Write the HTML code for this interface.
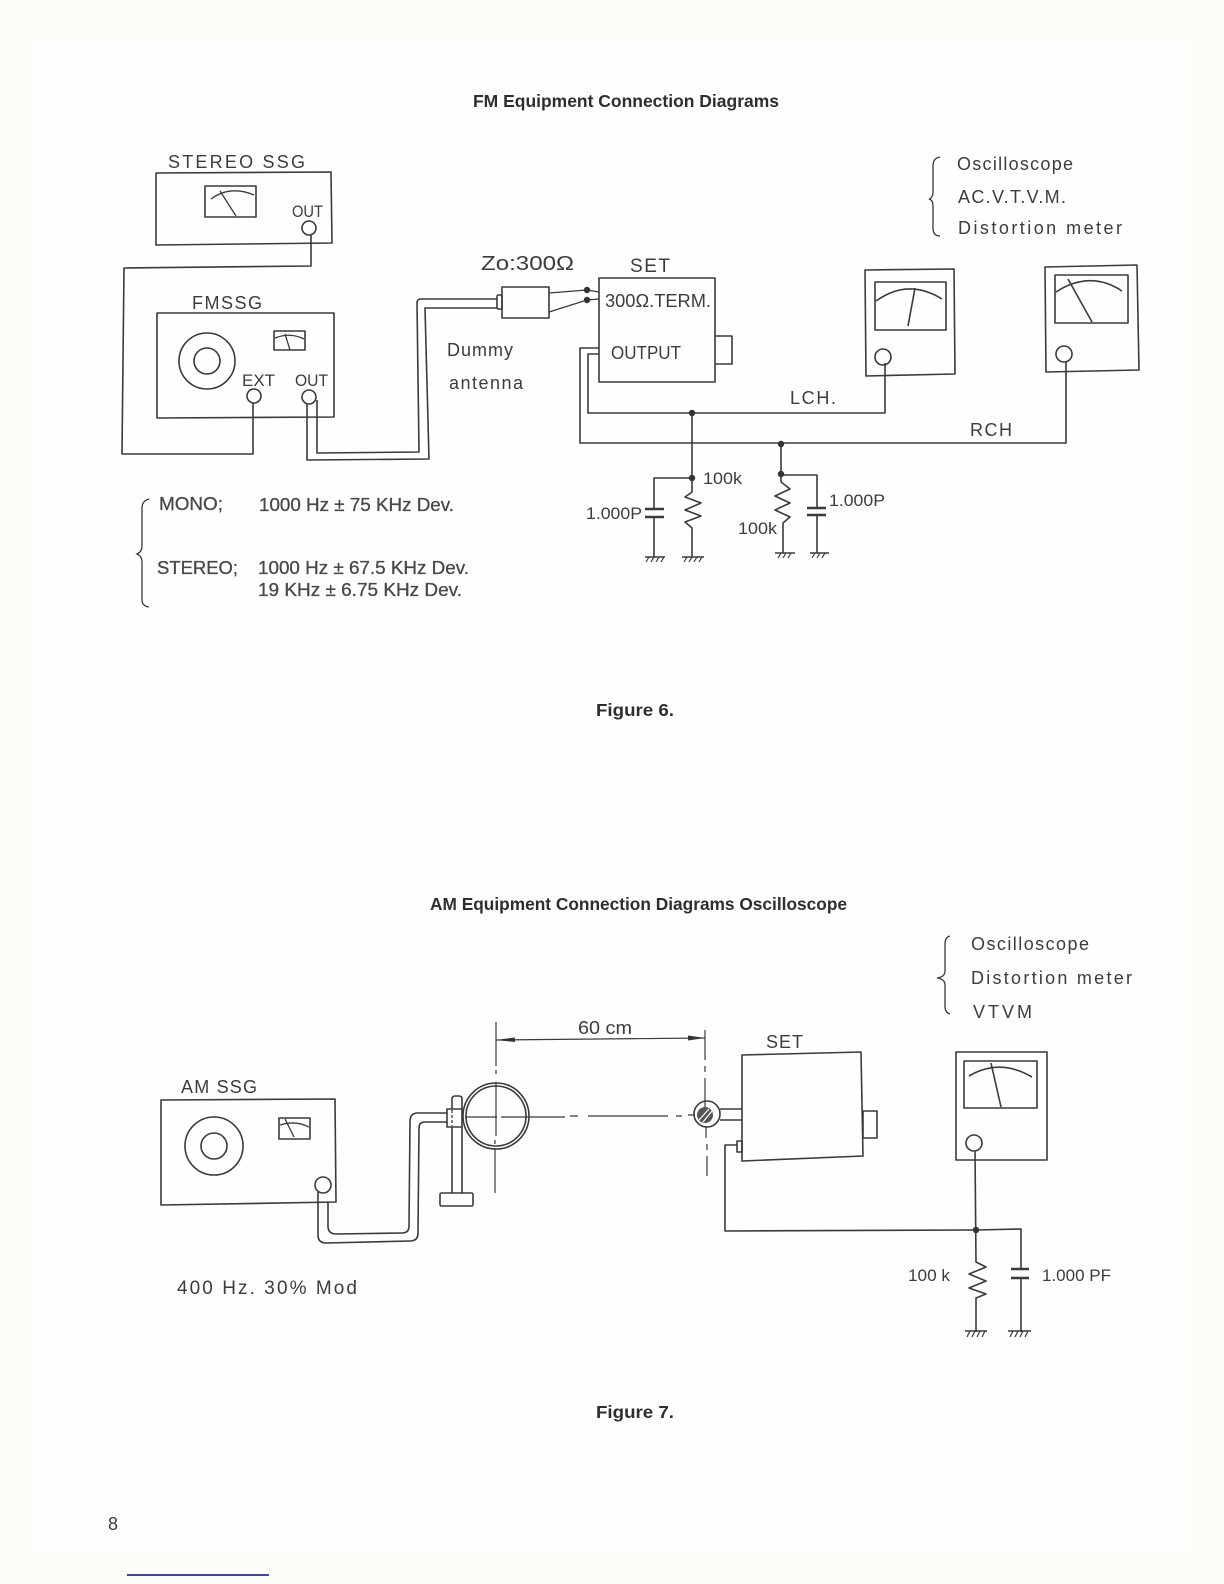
<!DOCTYPE html>
<html><head><meta charset="utf-8"><title>FM and AM Equipment Connection Diagrams</title>
<style>
html,body{margin:0;padding:0;background:#fcfcf9}
svg{display:block}
text{font-family:"Liberation Sans",sans-serif;fill:#3c3c3c;font-size:18px}
.b{font-weight:bold;fill:#2e2e2e;font-size:17.5px}
.m{fill:#484848;stroke:#484848;stroke-width:.3;font-size:18px}
.s{font-size:17px}
.l{fill:none;stroke:#3a3a3a;stroke-width:1.6;stroke-linejoin:round}
.t{fill:none;stroke:#3a3a3a;stroke-width:1.3}
.d{fill:#333}
.g{fill:none;stroke:#3a3a3a;stroke-width:1.2}
</style></head><body>
<svg width="1224" height="1584" viewBox="0 0 1224 1584" xmlns="http://www.w3.org/2000/svg">
<rect width="1224" height="1584" fill="#fcfcf9"/>
<rect x="30" y="40" width="1160" height="1510" fill="#fefefd"/>

<!-- Titles -->
<text class="b" x="473" y="107" textLength="306" lengthAdjust="spacingAndGlyphs">FM Equipment Connection Diagrams</text>
<text class="b" x="596" y="716" textLength="78" lengthAdjust="spacingAndGlyphs">Figure 6.</text>
<text class="b" x="430" y="910" textLength="417" lengthAdjust="spacingAndGlyphs">AM Equipment Connection Diagrams Oscilloscope</text>
<text class="b" x="596" y="1418" textLength="78" lengthAdjust="spacingAndGlyphs">Figure 7.</text>
<text x="108" y="1530" style="font-size:18px" fill="#444">8</text>
<line x1="127" y1="1575" x2="269" y2="1575" stroke="#000a8c" stroke-width="1.4"/>

<!-- Stereo SSG -->
<text x="168" y="168" textLength="137" lengthAdjust="spacing">STEREO  SSG</text>
<path class="l" d="M156 173 L331 172 L332 243 L156 245Z"/>
<rect class="l" x="205" y="186" width="51" height="31"/>
<path class="t" d="M211 199 Q230 185 254 195"/>
<path class="t" d="M220 191 L236 216"/>
<text class="s" x="292" y="217" textLength="31" lengthAdjust="spacingAndGlyphs">OUT</text>
<circle class="l" cx="309" cy="228" r="7"/>
<path class="l" d="M311 235 V266 L124 268 L122 454 H253 V403"/>

<!-- FMSSG -->
<text x="192" y="309" textLength="70" lengthAdjust="spacing">FMSSG</text>
<path class="l" d="M157 313 H334 V417 L157 418Z"/>
<circle class="l" cx="207" cy="361" r="28"/>
<circle class="l" cx="207" cy="361" r="13"/>
<rect class="l" x="274" y="331" width="31" height="19"/>
<path class="t" d="M275 338 Q290 332 304 339"/>
<path class="t" d="M285 334 L290 350"/>
<text class="s" x="242" y="386" textLength="33" lengthAdjust="spacingAndGlyphs">EXT</text>
<text class="s" x="295" y="386" textLength="33" lengthAdjust="spacingAndGlyphs">OUT</text>
<circle class="l" cx="254" cy="396" r="7"/>
<circle class="l" cx="309" cy="397" r="7"/>
<path class="l" d="M307 404 V460 L429 459 L425 308 H497"/>
<path class="l" d="M317 400 V453 L419 452 L417 303 Q417 299 421 299 H497"/>

<!-- Dummy antenna -->
<rect class="l" x="497" y="295" width="5" height="14" rx="1.5"/>
<rect class="l" x="502" y="287" width="47" height="31"/>
<path class="t" d="M549 293 L587 290 L599 292 M549 312 L587 300 L599 299"/>
<circle class="d" cx="587" cy="290" r="3.2"/>
<circle class="d" cx="587" cy="300" r="3.2"/>
<text x="481" y="270" textLength="93" lengthAdjust="spacingAndGlyphs" style="font-size:20px">Zo:300Ω</text>
<text x="447" y="356" textLength="66" lengthAdjust="spacing">Dummy</text>
<text x="449" y="389" textLength="74" lengthAdjust="spacing">antenna</text>

<!-- SET FM -->
<text x="630" y="272" textLength="40" lengthAdjust="spacing" style="font-size:19px">SET</text>
<rect class="l" x="599" y="278" width="116" height="104"/>
<path class="l" d="M715 336 H732 V364 H715"/>
<text x="605" y="307" textLength="106" lengthAdjust="spacingAndGlyphs">300Ω.TERM.</text>
<text x="611" y="359" textLength="70" lengthAdjust="spacingAndGlyphs">OUTPUT</text>
<path class="l" d="M599 348 H580 V443 H1066 V362"/>
<path class="l" d="M599 354 H588 V413 H885 V363"/>
<text x="790" y="404" textLength="46" lengthAdjust="spacing">LCH.</text>
<text x="970" y="436" textLength="42" lengthAdjust="spacing">RCH</text>

<!-- Meter L -->
<path class="l" d="M865 270 L954 269 L955 374 L866 376Z"/>
<rect class="l" x="875" y="282" width="71" height="48"/>
<path class="l" d="M876 301 Q908 278 942 299"/>
<path class="l" d="M915 288 L908 326"/>
<circle class="l" cx="883" cy="357" r="8"/>
<!-- Meter R -->
<path class="l" d="M1045 267 L1137 265 L1139 370 L1046 372Z"/>
<rect class="l" x="1055" y="275" width="73" height="48"/>
<path class="l" d="M1056 292 Q1090 270 1122 291"/>
<path class="l" d="M1068 279 L1092 322"/>
<circle class="l" cx="1064" cy="354" r="8"/>

<!-- FM network left -->
<path class="l" d="M692 413 V492 L685 497 L701 503 L685 510 L701 516 L685 522 L692 528 V557"/>
<path class="l" d="M692 478 H654 V509 M654 517 V557"/>
<path class="l" d="M645 509 H664 M645 517 H664" style="stroke-width:2.4"/>
<path class="l" d="M682 557 H704"/>
<path class="g" d="M687 557 L684 562 M692 557 L689 562 M697 557 L694 562 M702 557 L699 562"/>
<path class="l" d="M645 557 H665"/>
<path class="g" d="M649 557 L646 562 M654 557 L651 562 M659 557 L656 562 M664 557 L661 562"/>
<circle class="d" cx="692" cy="413" r="3.2"/>
<circle class="d" cx="692" cy="478" r="3.2"/>
<text class="s" x="703" y="484" textLength="39" lengthAdjust="spacingAndGlyphs">100k</text>
<text class="s" x="586" y="519" textLength="56" lengthAdjust="spacingAndGlyphs">1.000P</text>
<!-- FM network right -->
<path class="l" d="M781 444 V482 L790 489 L775 496 L790 503 L775 510 L790 517 L783 523 V553"/>
<path class="l" d="M781 475 H817 V508 M817 515 V553"/>
<path class="l" d="M807 508 H826 M807 515 H826" style="stroke-width:2.4"/>
<path class="l" d="M775 553 H795 M810 553 H829"/>
<path class="g" d="M781 553 L778 558 M786 553 L783 558 M791 553 L788 558 M815 553 L812 558 M820 553 L817 558 M825 553 L822 558"/>
<circle class="d" cx="781" cy="444" r="3.2"/>
<circle class="d" cx="781" cy="474" r="3.2"/>
<text class="s" x="738" y="534" textLength="39" lengthAdjust="spacingAndGlyphs">100k</text>
<text class="s" x="829" y="506" textLength="56" lengthAdjust="spacingAndGlyphs">1.000P</text>

<!-- Top right list -->
<path class="t" d="M940 157 Q933 158 933 166 V192 Q933 198 929 199 Q933 200 933 206 V228 Q933 236 940 236"/>
<text x="957" y="170" textLength="116" lengthAdjust="spacing">Oscilloscope</text>
<text x="958" y="203" textLength="108" lengthAdjust="spacing">AC.V.T.V.M.</text>
<text x="958" y="234" textLength="164" lengthAdjust="spacing">Distortion  meter</text>

<!-- FM notes -->
<path class="t" d="M149 499 Q142 501 142 508 V546 Q142 552 137 554 Q142 556 142 562 V600 Q142 606 149 607"/>
<text class="m" x="159" y="510" textLength="64" lengthAdjust="spacingAndGlyphs">MONO;</text>
<text class="m" x="259" y="511" textLength="195" lengthAdjust="spacingAndGlyphs">1000 Hz ± 75 KHz Dev.</text>
<text class="m" x="157" y="574" textLength="81" lengthAdjust="spacingAndGlyphs">STEREO;</text>
<text class="m" x="258" y="574" textLength="211" lengthAdjust="spacingAndGlyphs">1000 Hz ± 67.5 KHz Dev.</text>
<text class="m" x="258" y="596" textLength="204" lengthAdjust="spacingAndGlyphs">19 KHz ± 6.75 KHz Dev.</text>

<!-- AM SSG -->
<text x="181" y="1093" textLength="76" lengthAdjust="spacing">AM  SSG</text>
<path class="l" d="M161 1100 L335 1099 L336 1202 L161 1205Z"/>
<circle class="l" cx="214" cy="1146" r="29"/>
<circle class="l" cx="214" cy="1146" r="13"/>
<rect class="l" x="279" y="1118" width="31" height="21"/>
<path class="t" d="M280 1125 Q295 1120 309 1127"/>
<path class="t" d="M285 1119 L294 1137"/>
<circle cx="323" cy="1185" r="8" fill="#fefefd" stroke="#3a3a3a" stroke-width="1.6"/>
<path class="l" d="M318 1192 V1235 Q318 1243 326 1243 L410 1241 Q418 1241 418 1233 L419 1128 Q419 1122 425 1122 H447"/>
<path class="l" d="M328 1202 V1226 Q328 1234 336 1234 L402 1233 Q409 1233 409 1226 L410 1121 Q410 1113 418 1113 H447"/>
<!-- Stand and loop -->
<path class="l" d="M452 1109 V1099 Q452 1096 455 1096 H459 Q462 1096 462 1099 V1109 M452 1127 V1193 M462 1127 V1193"/>
<rect class="l" x="447" y="1109" width="15" height="18"/>
<path class="t" stroke-dasharray="3 2" d="M452 1110 V1126"/>
<rect class="l" x="440" y="1193" width="33" height="13" rx="1.5"/>
<circle class="l" cx="496" cy="1116" r="33"/>
<circle class="l" cx="496" cy="1116" r="30"/>
<path class="g" d="M496 1022 V1066 M496 1070 V1074 M496 1082 V1136 M495 1140 V1144 M495 1148 V1193"/>
<path class="g" d="M465 1117 H497 M501 1117 H565 M570 1116 H578 M588 1116 H668 M676 1116 H682 M688 1115 H695"/>
<!-- Dimension -->
<line class="g" x1="496" y1="1040" x2="705" y2="1038"/>
<path class="d" d="M496 1040 L515 1037.5 V1042Z"/>
<path class="d" d="M705 1038 L688 1035.5 V1040.5Z"/>
<path class="g" d="M705 1030 V1060 M705 1066 V1072 M705 1078 V1112 M706 1126 V1138 M707 1144 V1150 M707 1156 V1176"/>
<text x="578" y="1034" textLength="54" lengthAdjust="spacingAndGlyphs">60 cm</text>
<!-- small loop -->
<circle class="l" cx="707" cy="1114" r="13"/>
<circle cx="705" cy="1115" r="8" fill="#555"/>
<path d="M699 1120 L709 1109 M703 1122 L712 1111" stroke="#fefefd" stroke-width="1.2"/>
<path class="l" d="M720 1109 H742 M720 1120 H742"/>

<!-- SET AM -->
<text x="766" y="1048" textLength="37" lengthAdjust="spacing">SET</text>
<path class="l" d="M742 1055 L861 1052 L863 1156 L742 1161Z"/>
<rect class="l" x="863" y="1111" width="14" height="27"/>
<rect class="l" x="737" y="1141" width="5" height="11"/>
<path class="l" d="M737 1145 H725 V1231 L976 1230 L1021 1229 V1269 M1021 1278 V1332"/>
<path class="l" d="M1011 1269 H1029 M1011 1278 H1029" style="stroke-width:2.6"/>
<!-- AM meter -->
<rect class="l" x="956" y="1052" width="91" height="108"/>
<rect class="l" x="964" y="1061" width="73" height="47"/>
<path class="l" d="M969 1076 Q1000 1058 1032 1077"/>
<path class="l" d="M991 1063 L1001 1107"/>
<circle class="l" cx="974" cy="1143" r="8"/>
<path class="l" d="M975 1151 L976 1262 L986 1267 L969 1274 L986 1281 L969 1288 L986 1294 L976 1298 V1332"/>
<circle class="d" cx="976" cy="1230" r="3.2"/>
<path class="l" d="M965 1331 H987 M1008 1331 H1031"/>
<path class="g" d="M970 1331 L967 1337 M975 1331 L972 1337 M980 1331 L977 1337 M985 1331 L982 1337 M1013 1331 L1010 1337 M1018 1331 L1015 1337 M1023 1331 L1020 1337 M1028 1331 L1025 1337"/>
<text x="908" y="1281" textLength="42" lengthAdjust="spacingAndGlyphs" class="s">100 k</text>
<text x="1042" y="1281" textLength="69" lengthAdjust="spacingAndGlyphs" class="s">1.000 PF</text>
<text x="177" y="1294" textLength="180" lengthAdjust="spacing" style="font-size:19px">400 Hz.  30%  Mod</text>

<!-- Bottom right list -->
<path class="t" d="M950 936 Q945 937 945 944 V971 Q945 977 937 978 Q945 979 945 985 V1006 Q945 1013 950 1014"/>
<text x="971" y="950" textLength="118" lengthAdjust="spacing">Oscilloscope</text>
<text x="971" y="984" textLength="161" lengthAdjust="spacing">Distortion  meter</text>
<text x="973" y="1018" textLength="59" lengthAdjust="spacing">VTVM</text>
</svg>
</body></html>
